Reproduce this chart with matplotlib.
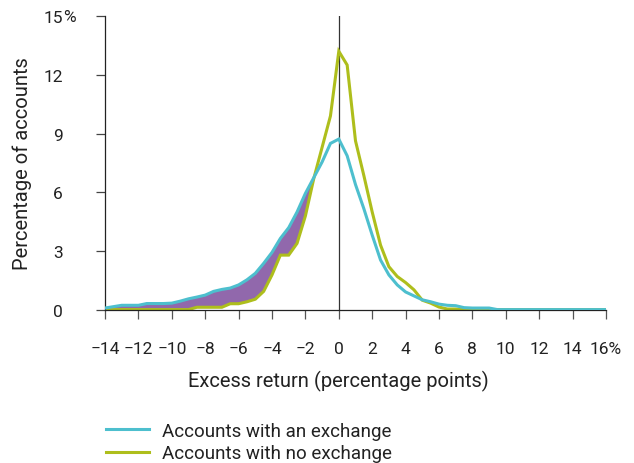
import matplotlib
matplotlib.use("Agg")
import matplotlib.pyplot as plt
import numpy as np

plt.rcParams['font.family'] = ['Roboto', 'DejaVu Sans']

# Excess return grid (percentage points)
excess_return = [-14, -13.5, -13, -12.5, -12, -11.5, -11, -10.5, -10, -9.5, -9, -8.5, -8, -7.5, -7,
                 -6.5, -6, -5.5, -5, -4.5, -4, -3.5, -3, -2.5, -2, -1.5, -1, -0.5, 0,
                 0.5, 1, 1.5, 2, 2.5, 3, 3.5, 4, 4.5, 5, 5.5, 6, 6.5, 7, 7.5, 8, 8.5, 9, 9.5,
                 10, 10.5, 11, 11.5, 12, 12.5, 13, 13.5, 14, 14.5, 15, 15.5, 16]

with_exchange = [0.10, 0.17, 0.24, 0.24, 0.24, 0.33, 0.33, 0.33, 0.35, 0.45, 0.57, 0.66, 0.76, 0.95, 1.05,
                 1.12, 1.28, 1.54, 1.87, 2.38, 2.94, 3.65, 4.20, 5.00, 5.95, 6.75, 7.55, 8.50, 8.72,
                 7.87, 6.40, 5.17, 3.82, 2.55, 1.79, 1.28, 0.92, 0.72, 0.52, 0.42, 0.30, 0.24, 0.22, 0.12,
                 0.10, 0.10, 0.10, 0.02,
                 0.02, 0.02, 0.02, 0.02, 0.02, 0.02, 0.02, 0.02, 0.02, 0.02, 0.02, 0.02, 0.02]

no_exchange = [0.02, 0.02, 0.02, 0.02, 0.02, 0.02, 0.02, 0.02, 0.02, 0.02, 0.02, 0.14, 0.14, 0.14, 0.14,
               0.32, 0.32, 0.42, 0.55, 0.95, 1.79, 2.80, 2.80, 3.40, 4.80, 6.70, 8.30, 9.90, 13.20,
               12.50, 8.63, 6.86, 5.00, 3.31, 2.21, 1.71, 1.40, 1.03, 0.50, 0.35, 0.15, 0.05, 0.05, 0.02,
               0.02, 0.02, 0.02, 0.02,
               0.02, 0.02, 0.02, 0.02, 0.02, 0.02, 0.02, 0.02, 0.02, 0.02, 0.02, 0.02, 0.02]

x_ticks = [-14, -12, -10, -8, -6, -4, -2, 0, 2, 4, 6, 8, 10, 12, 14, 16]
x_tick_labels = ['\u221214', '\u221212', '\u221210', '\u22128', '\u22126', '\u22124', '\u22122',
                 '0', '2', '4', '6', '8', '10', '12', '14', '16%']
y_ticks = [0, 3, 6, 9, 12, 15]
y_tick_labels = ['0', '3', '6', '9', '12', '15']

series_labels = ['Accounts with an exchange', 'Accounts with no exchange']

BLUE = '#4DBFCE'
GREEN = '#AEBE1C'
PURPLE = '#9168AC'
TEXT = '#222222'

fig = plt.figure(figsize=(6.34, 4.64), dpi=100)
ax = fig.add_axes([105/634, 1-311/464, (606-105)/634, (311-17)/464])

x = np.array(excess_return)
b = np.array(with_exchange)
g = np.array(no_exchange)

ax.fill_between(x, g, b, where=(b >= g) & (x < 0), interpolate=True, color=PURPLE, lw=0, zorder=1)
ax.axvline(0, color='#333333', lw=0.9, zorder=1.5)
l2, = ax.plot(x, g, color=GREEN, lw=2.2, zorder=2, solid_joinstyle='miter')
l1, = ax.plot(x, b, color=BLUE, lw=2.2, zorder=3, solid_joinstyle='miter')

ax.set_xlim(-14, 16)
ax.set_ylim(0, 15)
for s in ['top', 'right']:
    ax.spines[s].set_visible(False)
for s in ['left', 'bottom']:
    ax.spines[s].set_color('#222222')
    ax.spines[s].set_linewidth(0.9)

ax.set_xticks(x_ticks)
ax.set_xticklabels(x_tick_labels)
ax.set_yticks(y_ticks)
ax.set_yticklabels(y_tick_labels)
ax.tick_params(axis='x', direction='out', length=6.5, width=0.9, color='#555555',
               pad=16, labelsize=12.5, labelcolor=TEXT)
ax.tick_params(axis='y', direction='out', length=6.5, width=0.9, color='#444444',
               pad=24, labelsize=12.5, labelcolor=TEXT)
# hanging percent sign on the top y label
ax.annotate('%', xy=(0, 1), xycoords='axes fraction', xytext=(-30.5, 0),
            textcoords='offset points', ha='left', va='center', fontsize=12.5, color=TEXT)

ax.set_xlabel('Excess return (percentage points)', fontsize=14.5, color=TEXT)
ax.xaxis.set_label_coords(14/30, -0.205)
ax.set_ylabel('Percentage of accounts', fontsize=14.5, color=TEXT)
ax.yaxis.set_label_coords(-0.145, 0.5)

fig.legend([l1, l2], series_labels, loc='upper left', bbox_to_anchor=(106/634, 1-423/464),
           frameon=False, fontsize=13.5, handlelength=2.3, handletextpad=0.7,
           labelspacing=0.22, borderaxespad=0, borderpad=0, labelcolor=TEXT)

fig.savefig('out.png', dpi=100)
